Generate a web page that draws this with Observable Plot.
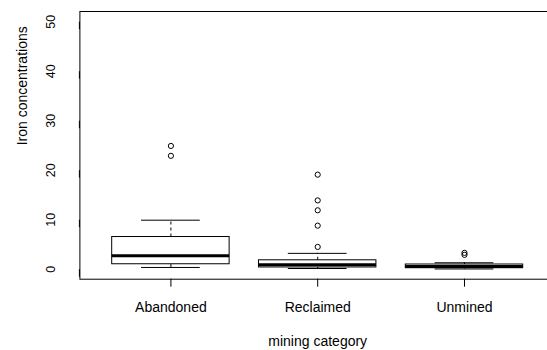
<!DOCTYPE html>
<html>
<head>
<meta charset="utf-8">
<script src="https://cdn.jsdelivr.net/npm/d3@7"></script>
<script src="https://cdn.jsdelivr.net/npm/@observablehq/plot@0.6"></script>
<style>
  html, body { margin: 0; padding: 0; background: #fff; overflow: hidden; }
  #chart { width: 547px; height: 350px; overflow: hidden; }
  #chart svg { max-width: none !important; }
</style>
</head>
<body>
<div id="chart"></div>
<script>
// ---- data ----
const categories = ["Abandoned", "Reclaimed", "Unmined"];
const lowerWhisker = [0.35, 0.14, 0.05];
const q1 = [1.0, 0.35, 0.2];
const median = [2.7, 0.9, 0.55];
const q3 = [6.5, 1.8, 0.95];
const upperWhisker = [9.9, 3.2, 1.3];
const outlierCategory = ["Abandoned", "Abandoned", "Reclaimed", "Reclaimed", "Reclaimed", "Reclaimed", "Reclaimed", "Unmined", "Unmined"];
const outlierValue = [24.9, 22.9, 19.1, 13.9, 11.9, 8.8, 4.5, 3.3, 2.9];
const yTicks = [0, 10, 20, 30, 40, 50];
const xTitle = "mining category";
const yTitle = "Iron concentrations";

// ---- tables built from the arrays ----
const boxes = categories.map((c, i) => ({
  pos: i + 1, lo: lowerWhisker[i], q1: q1[i], med: median[i], q3: q3[i], hi: upperWhisker[i]
}));
const outliers = outlierCategory.map((c, i) => ({ pos: categories.indexOf(c) + 1, v: outlierValue[i] }));
const halfBox = 0.4, halfCap = 0.2;

const chart = Plot.plot({
  width: 555,
  height: 350,
  marginLeft: 79.4,
  marginRight: 0,
  marginTop: 11,
  marginBottom: 71.3,
  x: { domain: [0.38, 3.62], axis: null },
  y: { domain: [-2.02, 52.06], axis: null },
  style: { fontFamily: "'Liberation Sans', Arial, sans-serif", background: "#fff", color: "#000", maxWidth: "none" },
  marks: [
    Plot.axisY({ ticks: yTicks, tickSize: 7.5, tickPadding: 21, rotate: -90, textAnchor: "middle", fontSize: 12.5, label: null, stroke: "#000" }),
    Plot.axisX({ ticks: boxes.map(d => d.pos), tickFormat: p => categories[p - 1], tickSize: 8, tickPadding: 14.5, fontSize: 14, label: null, stroke: "#000" }),
    Plot.frame({ stroke: "#000", strokeWidth: 1 }),
    // whiskers (dashed)
    Plot.ruleX(boxes, { x: "pos", y1: "q3", y2: "hi", stroke: "#000", strokeDasharray: "3,3" }),
    Plot.ruleX(boxes, { x: "pos", y1: "lo", y2: "q1", stroke: "#000", strokeDasharray: "3,3" }),
    // whisker caps
    Plot.ruleY(boxes, { y: "hi", x1: d => d.pos - halfCap, x2: d => d.pos + halfCap, stroke: "#000" }),
    Plot.ruleY(boxes, { y: "lo", x1: d => d.pos - halfCap, x2: d => d.pos + halfCap, stroke: "#000" }),
    // boxes
    Plot.rect(boxes, { x1: d => d.pos - halfBox, x2: d => d.pos + halfBox, y1: "q1", y2: "q3", fill: "#fff", stroke: "#000", strokeWidth: 1 }),
    // medians
    Plot.ruleY(boxes, { y: "med", x1: d => d.pos - halfBox, x2: d => d.pos + halfBox, stroke: "#000", strokeWidth: 3 }),
    // outliers
    Plot.dot(outliers, { x: "pos", y: "v", r: 2.6, stroke: "#000", fill: "none", strokeWidth: 1 }),
    // titles
    Plot.text([yTitle], { text: d => d, frameAnchor: "left", rotate: -90, dx: -57, fontSize: 14, lineAnchor: "middle", fill: "#000" }),
    Plot.text([xTitle], { text: d => d, frameAnchor: "bottom", dy: 62.5, fontSize: 14, lineAnchor: "middle", fill: "#000" })
  ]
});
chart.style.maxWidth = "none";
document.getElementById("chart").appendChild(chart);
</script>
</body>
</html>
